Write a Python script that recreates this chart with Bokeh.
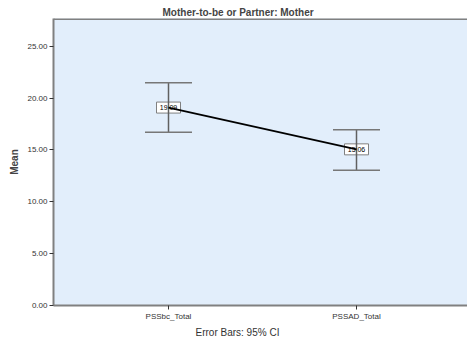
from bokeh.plotting import figure
from bokeh.models import Range1d, FixedTicker, Title, ColumnDataSource, NumeralTickFormatter, Span
from bokeh.core.properties import value
from bokeh.embed import file_html
from bokeh.resources import INLINE

categories = ["PSSbc_Total", "PSSAD_Total"]
means = [19.09, 15.06]
ci_lower = [16.70, 13.05]
ci_upper = [21.48, 16.95]
y_ticks = [0, 5, 10, 15, 20, 25]

xs = [1, 2]
labels = ["%.2f" % m for m in means]
src = ColumnDataSource(dict(x=xs, mean=means, lo=ci_lower, hi=ci_upper, lab=labels))

FONT = "Liberation Sans"
Y_TOP = 27.68

p = figure(width=467, height=345, output_backend="svg", toolbar_location=None,
           x_range=Range1d(0.3883, 2.5904), y_range=Range1d(0, Y_TOP),
           min_border_left=53, min_border_right=0, min_border_top=18, min_border_bottom=40)
p.background_fill_color = "#E2EEFB"
p.border_fill_color = "white"
p.outline_line_color = None
p.xgrid.visible = False
p.ygrid.visible = False

p.add_layout(Span(location=Y_TOP, dimension="width", line_color="#808080", line_width=3))

# label boxes (drawn first so lines are on top)
p.rect(x="x", y="mean", width=24, height=11, width_units="screen", height_units="screen",
       fill_color="white", line_color="#808080", line_width=1, source=src)
p.text(x="x", y="mean", text="lab", text_align="center", text_baseline="middle",
       text_font=value(FONT), text_font_size="7px", text_color="#000000", source=src)

# error bars
p.segment(x0="x", y0="lo", x1="x", y1="hi", line_color="#606060", line_width=1.5, source=src)
p.scatter(x="x", y="lo", marker="dash", size=47, line_color="#777777", line_width=1.5, source=src)
p.scatter(x="x", y="hi", marker="dash", size=47, line_color="#777777", line_width=1.5, source=src)

# mean line
p.line(x="x", y="mean", line_color="#000000", line_width=1.8, source=src)

# axes
p.yaxis.ticker = FixedTicker(ticks=y_ticks)
p.yaxis.formatter = NumeralTickFormatter(format="0.00")
p.yaxis.axis_label = "Mean"
p.yaxis.axis_label_text_font = FONT
p.yaxis.axis_label_text_font_style = "bold"
p.yaxis.axis_label_text_font_size = "10px"
p.yaxis.axis_label_standoff = 4
p.xaxis.ticker = FixedTicker(ticks=xs)
p.xaxis.major_label_overrides = {x: c for x, c in zip(xs, categories)}
for ax in (p.xaxis, p.yaxis):
    ax.major_label_text_font = FONT
    ax.major_label_text_font_size = "8px"
    ax.major_label_text_color = "#333333"
    ax.axis_line_color = "#808080"
    ax.axis_line_width = 2
    ax.major_tick_line_color = "#333333"
    ax.major_tick_in = 0
    ax.major_tick_out = 4
    ax.minor_tick_line_color = None
    ax.major_label_standoff = 2

p.title.text = "Mother-to-be or Partner: Mother"
p.title.align = "left"
p.title.offset = 109
p.title.text_font = FONT
p.title.text_font_size = "10px"
p.title.text_font_style = "bold"
p.title.standoff = 2

cap = Title(text="Error Bars: 95% CI", align="left", offset=142, text_font=FONT,
            text_font_size="10px", text_font_style="normal", text_color="#333333",
            standoff=3)
p.add_layout(cap, "below")

open("out.html", "w").write(file_html(p, INLINE))
